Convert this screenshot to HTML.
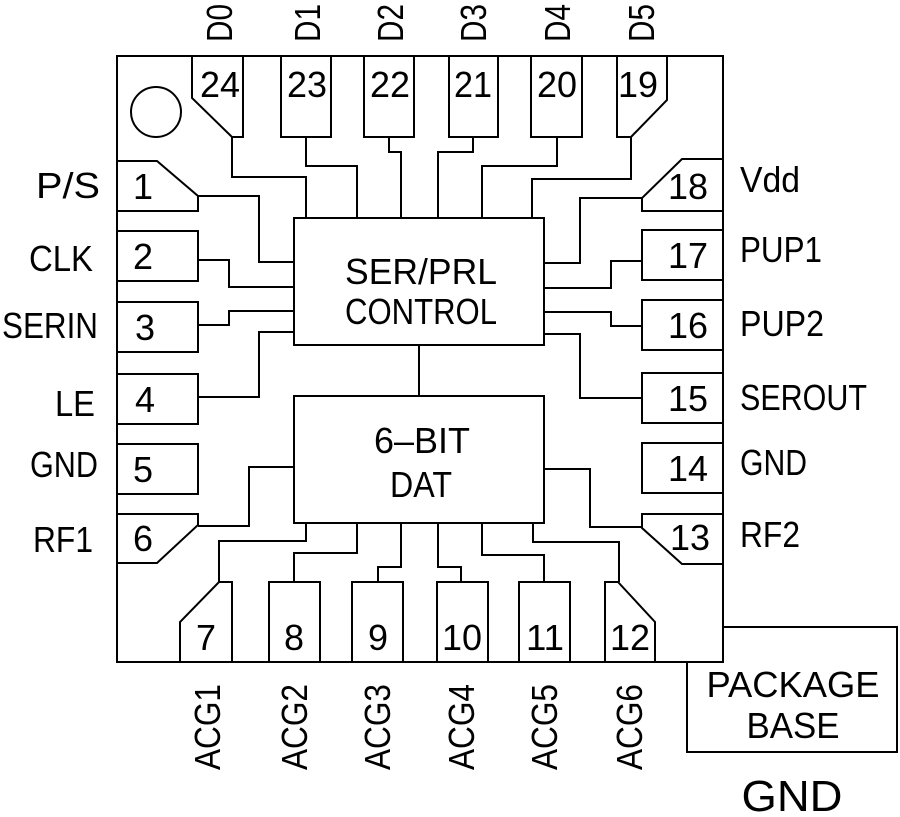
<!DOCTYPE html>
<html><head><meta charset="utf-8"><style>
html,body{margin:0;padding:0;background:#fff;}
svg{display:block;}
text{font-family:"Liberation Sans",sans-serif;fill:#000;}
</style></head><body>
<svg width="900" height="817" viewBox="0 0 900 817" xmlns="http://www.w3.org/2000/svg">
<g fill="none" stroke="#000" stroke-width="2">
<rect x="117" y="56" width="606" height="606"/>
<circle cx="156" cy="112" r="25"/>
<!-- top pins -->
<path d="M192 56 V98 L232 137 H243 V56"/>
<rect x="281" y="56" width="50" height="81"/>
<rect x="364" y="56" width="50" height="81"/>
<rect x="449" y="56" width="49" height="81"/>
<rect x="531" y="56" width="51" height="81"/>
<path d="M617 56 V137 H631 L667 100 V56"/>
<!-- left pins -->
<path d="M117 161 H157 L198 196 V211 H117"/>
<rect x="117" y="231" width="81" height="50"/>
<rect x="117" y="302" width="81" height="50"/>
<rect x="117" y="374" width="81" height="50"/>
<rect x="117" y="444" width="81" height="50"/>
<path d="M117 514 H198 V525 L157 563 H117"/>
<!-- right pins -->
<path d="M723 159 H682 L642 198 V211 H723"/>
<rect x="642" y="230" width="81" height="50"/>
<rect x="642" y="300" width="81" height="50"/>
<rect x="642" y="373" width="81" height="50"/>
<rect x="642" y="443" width="81" height="50"/>
<path d="M723 514 H642 V528 L682 564 H723"/>
<!-- bottom pins -->
<path d="M180 662 V622 L219 582 H232 V662"/>
<rect x="269" y="582" width="51" height="80"/>
<rect x="352" y="582" width="51" height="80"/>
<rect x="437" y="582" width="51" height="80"/>
<rect x="519" y="582" width="51" height="80"/>
<path d="M605 662 V582 H618 L655 622 V662"/>
<!-- blocks -->
<rect x="294" y="218" width="250" height="127"/>
<rect x="294" y="396" width="250" height="127"/>
<path d="M419 345 V396"/>
<!-- top wires -->
<path d="M232 137 V177 H306 V218"/>
<path d="M306 137 V166 H357 V218"/>
<path d="M389 137 V152 H401 V218"/>
<path d="M473 137 V152 H438 V218"/>
<path d="M557 137 V166 H482 V218"/>
<path d="M631 137 V179 H532 V218"/>
<!-- right wires -->
<path d="M642 198 H580 V263 H544"/>
<path d="M642 261 H611 V288 H544"/>
<path d="M544 312 H611 V326 H642"/>
<path d="M544 334 H580 V398 H642"/>
<path d="M544 469 H590 V527 H642"/>
<!-- left wires -->
<path d="M198 196 H259 V262 H294"/>
<path d="M198 260 H229 V287 H294"/>
<path d="M198 325 H229 V311 H294"/>
<path d="M198 397 H259 V332 H294"/>
<path d="M198 526 H249 V467 H294"/>
<!-- bottom wires -->
<path d="M219 582 V541 H306 V523"/>
<path d="M294 582 V553 H357 V523"/>
<path d="M378 582 V567 H401 V523"/>
<path d="M461 582 V567 H438 V523"/>
<path d="M544 582 V555 H482 V523"/>
<path d="M619 582 V542 H533 V523"/>
<!-- package base -->
<path d="M723 627 H897 V752 H687 V662"/>
</g>
<g font-size="36">
<!-- top pin numbers -->
<text x="220" y="97" text-anchor="middle" textLength="40" lengthAdjust="spacingAndGlyphs">24</text>
<text x="307" y="97" text-anchor="middle" textLength="40" lengthAdjust="spacingAndGlyphs">23</text>
<text x="390" y="97" text-anchor="middle" textLength="40" lengthAdjust="spacingAndGlyphs">22</text>
<text x="473" y="97" text-anchor="middle" textLength="38" lengthAdjust="spacingAndGlyphs">21</text>
<text x="557" y="97" text-anchor="middle" textLength="40" lengthAdjust="spacingAndGlyphs">20</text>
<text x="638" y="97" text-anchor="middle" textLength="40" lengthAdjust="spacingAndGlyphs">19</text>
<!-- left -->
<text x="143" y="199" text-anchor="middle">1</text>
<text x="143" y="269" text-anchor="middle">2</text>
<text x="145" y="340" text-anchor="middle">3</text>
<text x="145" y="412" text-anchor="middle">4</text>
<text x="143" y="482" text-anchor="middle">5</text>
<text x="143" y="551" text-anchor="middle">6</text>
<!-- right -->
<text x="688" y="199" text-anchor="middle" textLength="40" lengthAdjust="spacingAndGlyphs">18</text>
<text x="688" y="268" text-anchor="middle" textLength="40" lengthAdjust="spacingAndGlyphs">17</text>
<text x="688" y="338" text-anchor="middle" textLength="40" lengthAdjust="spacingAndGlyphs">16</text>
<text x="688" y="411" text-anchor="middle" textLength="40" lengthAdjust="spacingAndGlyphs">15</text>
<text x="688" y="481" text-anchor="middle" textLength="40" lengthAdjust="spacingAndGlyphs">14</text>
<text x="690" y="550" text-anchor="middle" textLength="40" lengthAdjust="spacingAndGlyphs">13</text>
<!-- bottom -->
<text x="206" y="650" text-anchor="middle">7</text>
<text x="294" y="650" text-anchor="middle">8</text>
<text x="378" y="650" text-anchor="middle">9</text>
<text x="462" y="650" text-anchor="middle" textLength="40" lengthAdjust="spacingAndGlyphs">10</text>
<text x="545" y="650" text-anchor="middle" textLength="38" lengthAdjust="spacingAndGlyphs">11</text>
<text x="630" y="650" text-anchor="middle" textLength="40" lengthAdjust="spacingAndGlyphs">12</text>
<!-- left labels -->
<text x="100" y="198" text-anchor="end" textLength="64" lengthAdjust="spacingAndGlyphs">P/S</text>
<text x="93" y="271" text-anchor="end" textLength="64" lengthAdjust="spacingAndGlyphs">CLK</text>
<text x="98" y="338" text-anchor="end" textLength="96" lengthAdjust="spacingAndGlyphs">SERIN</text>
<text x="95" y="416" text-anchor="end" textLength="40" lengthAdjust="spacingAndGlyphs">LE</text>
<text x="98" y="477" text-anchor="end" textLength="68" lengthAdjust="spacingAndGlyphs">GND</text>
<text x="93" y="552" text-anchor="end" textLength="60" lengthAdjust="spacingAndGlyphs">RF1</text>
<!-- right labels -->
<text x="740" y="192" textLength="60" lengthAdjust="spacingAndGlyphs">Vdd</text>
<text x="740" y="262" textLength="82" lengthAdjust="spacingAndGlyphs">PUP1</text>
<text x="740" y="336" textLength="84" lengthAdjust="spacingAndGlyphs">PUP2</text>
<text x="740" y="410" textLength="127" lengthAdjust="spacingAndGlyphs">SEROUT</text>
<text x="740" y="475" textLength="67" lengthAdjust="spacingAndGlyphs">GND</text>
<text x="740" y="547" textLength="60" lengthAdjust="spacingAndGlyphs">RF2</text>
<!-- blocks -->
<text x="421" y="284" text-anchor="middle" textLength="152" lengthAdjust="spacingAndGlyphs">SER/PRL</text>
<text x="421" y="324" text-anchor="middle" textLength="152" lengthAdjust="spacingAndGlyphs">CONTROL</text>
<text x="422" y="453" text-anchor="middle" textLength="96" lengthAdjust="spacingAndGlyphs">6–BIT</text>
<text x="421" y="497" text-anchor="middle" textLength="62" lengthAdjust="spacingAndGlyphs">DAT</text>
<text x="793" y="697" text-anchor="middle" textLength="173" lengthAdjust="spacingAndGlyphs">PACKAGE</text>
<text x="793" y="738" text-anchor="middle" textLength="93" lengthAdjust="spacingAndGlyphs">BASE</text>
<text x="792" y="811" text-anchor="middle" font-size="44" textLength="101" lengthAdjust="spacingAndGlyphs">GND</text>
<!-- top rotated -->
<text transform="translate(232,42) rotate(-90)" textLength="38" lengthAdjust="spacingAndGlyphs">D0</text>
<text transform="translate(320,42) rotate(-90)" textLength="38" lengthAdjust="spacingAndGlyphs">D1</text>
<text transform="translate(403,42) rotate(-90)" textLength="38" lengthAdjust="spacingAndGlyphs">D2</text>
<text transform="translate(486,42) rotate(-90)" textLength="38" lengthAdjust="spacingAndGlyphs">D3</text>
<text transform="translate(570,42) rotate(-90)" textLength="38" lengthAdjust="spacingAndGlyphs">D4</text>
<text transform="translate(654,42) rotate(-90)" textLength="38" lengthAdjust="spacingAndGlyphs">D5</text>
<!-- bottom rotated -->
<text transform="translate(220,770) rotate(-90)" textLength="86" lengthAdjust="spacingAndGlyphs">ACG1</text>
<text transform="translate(307,770) rotate(-90)" textLength="86" lengthAdjust="spacingAndGlyphs">ACG2</text>
<text transform="translate(390,770) rotate(-90)" textLength="86" lengthAdjust="spacingAndGlyphs">ACG3</text>
<text transform="translate(474,770) rotate(-90)" textLength="86" lengthAdjust="spacingAndGlyphs">ACG4</text>
<text transform="translate(557,770) rotate(-90)" textLength="86" lengthAdjust="spacingAndGlyphs">ACG5</text>
<text transform="translate(642,770) rotate(-90)" textLength="86" lengthAdjust="spacingAndGlyphs">ACG6</text>
</g>
</svg>
</body></html>
